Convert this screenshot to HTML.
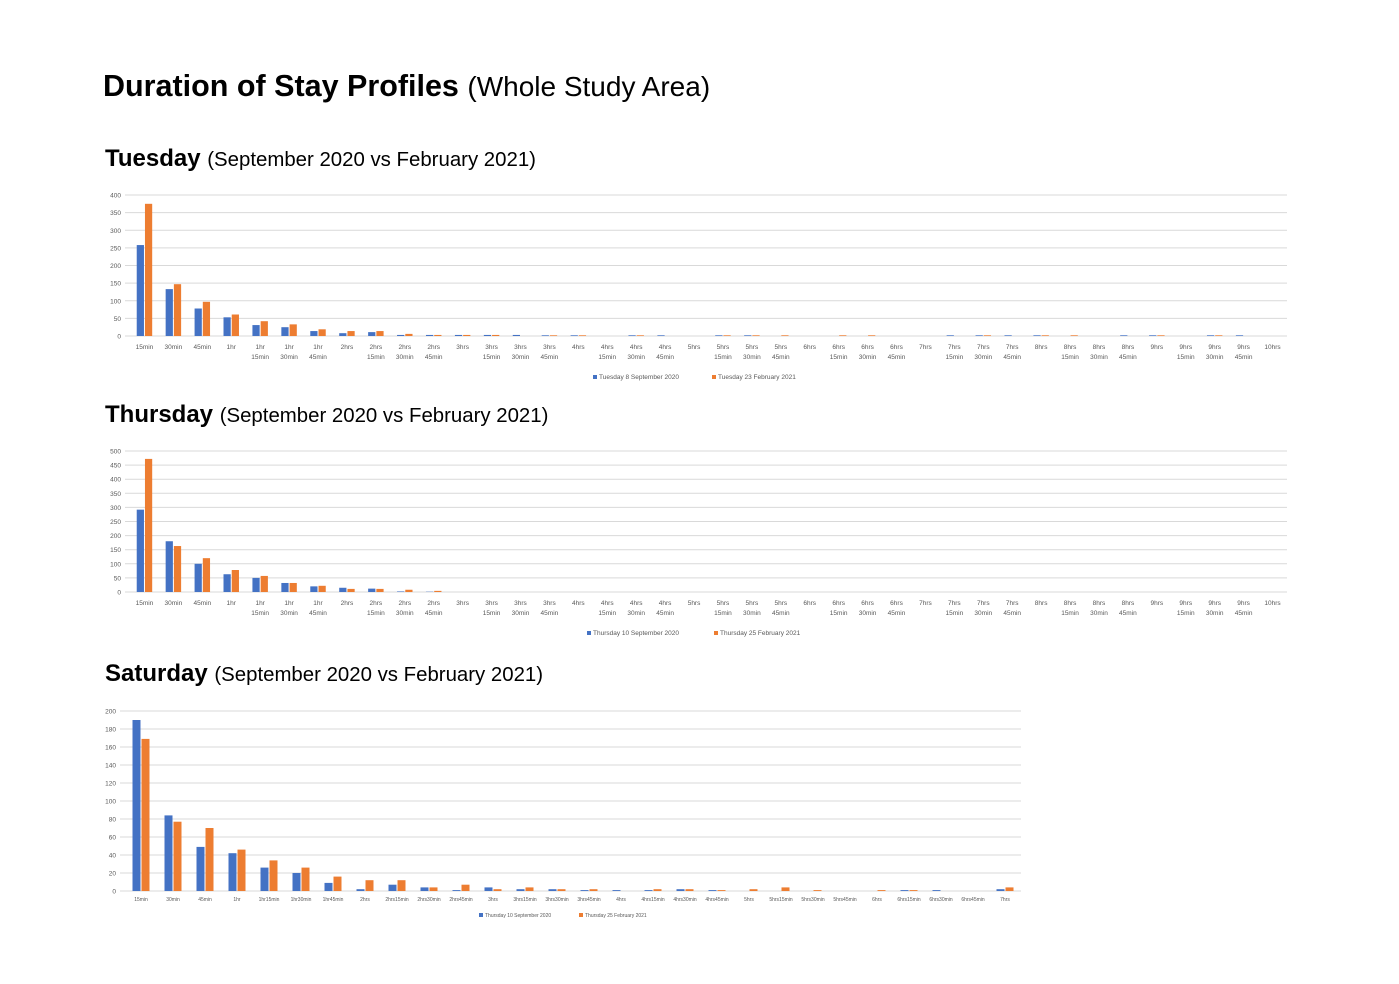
<!DOCTYPE html>
<html><head><meta charset="utf-8"><style>
body{margin:0;background:#fff;width:1399px;height:979px;overflow:hidden;font-family:"Liberation Sans",sans-serif}
</style></head><body>
<svg id="s" width="1399" height="979" xmlns="http://www.w3.org/2000/svg" font-family="Liberation Sans, sans-serif">
<text x="103" y="96" font-size="30.5" font-weight="bold" fill="#000">Duration of Stay Profiles <tspan font-weight="normal" font-size="28">(Whole Study Area)</tspan></text>
<text x="105" y="166" font-size="24" font-weight="bold">Tuesday <tspan font-weight="normal" font-size="20.4">(September 2020 vs February 2021)</tspan></text>
<text x="105" y="422" font-size="24" font-weight="bold">Thursday <tspan font-weight="normal" font-size="20.4">(September 2020 vs February 2021)</tspan></text>
<text x="105" y="681" font-size="24" font-weight="bold">Saturday <tspan font-weight="normal" font-size="20.4">(September 2020 vs February 2021)</tspan></text>
<g id="g"></g>
</svg>
<script>
var g=document.getElementById('g'),h='';
function cats(n){var a=[];for(var i=0;i<n;i++){var m=(i+1)*15,hr=Math.floor(m/60),mm=m%60;
if(hr==0)a.push([mm+'min','']);else{var u=hr==1?'hr':'hrs';a.push(mm==0?[hr+u,'']:[hr+u,mm+'min'])}}return a}
function chart(x0,x1,yt,yb,max,step,n,B,O,lab2,legY,legs,fs){
 var cw=(x1-x0)/n;
 for(var v=0;v<=max;v+=step){var y=yb-(yb-yt)*v/max;h+='<line x1="'+(x0-5)+'" x2="'+x1+'" y1="'+y+'" y2="'+y+'" stroke="#d9d9d9" stroke-width="1"/>';
 h+='<text x="'+(x0-9)+'" y="'+(y+2.5)+'" font-size="6.5" fill="#595959" text-anchor="end">'+v+'</text>';}
 var c=cats(n),bw=cw*0.25;
 for(var i=0;i<n;i++){var cx=x0+cw*(i+0.5);
  var b=B[i]||0,o=O[i]||0;
  var hb=(yb-yt)*b/max,ho=(yb-yt)*o/max;
  if(b>0)h+='<rect x="'+(cx-bw-0.5)+'" y="'+(yb-hb)+'" width="'+bw+'" height="'+hb+'" fill="#4472c4"/>';
  if(o>0)h+='<rect x="'+(cx+0.5)+'" y="'+(yb-ho)+'" width="'+bw+'" height="'+ho+'" fill="#ed7d31"/>';
  if(lab2){h+='<text x="'+cx+'" y="'+(yb+13)+'" font-size="6.5" fill="#595959" text-anchor="middle">'+c[i][0]+'</text>';
   if(c[i][1])h+='<text x="'+cx+'" y="'+(yb+23)+'" font-size="6.5" fill="#595959" text-anchor="middle">'+c[i][1]+'</text>';}
  else h+='<text x="'+cx+'" y="'+(yb+10)+'" font-size="5" fill="#595959" text-anchor="middle">'+c[i][0]+c[i][1]+'</text>';
 }
 h+='<rect x="'+legs[0]+'" y="'+(legY-4)+'" width="4" height="4" fill="#4472c4"/><text x="'+(legs[0]+6)+'" y="'+legY+'" font-size="'+fs+'" fill="#595959">'+legs[1]+'</text>';
 h+='<rect x="'+legs[2]+'" y="'+(legY-4)+'" width="4" height="4" fill="#ed7d31"/><text x="'+(legs[2]+6)+'" y="'+legY+'" font-size="'+fs+'" fill="#595959">'+legs[3]+'</text>';
}
var tb=[258,133,78,53,31,25,14,8,11,3,3,3,3,3,2,2,0,2,2,0,2,2,0,0,0,0,0,0,2,2,2,2,0,0,2,2,0,2,2,0];
var to=[375,147,97,61,42,33,19,14,14,6,3,3,3,0,2,2,0,2,0,0,2,2,2,0,2,2,0,0,0,2,0,2,2,0,0,2,0,2,0,0];
chart(130,1287,195,336,400,50,40,tb,to,true,379,[593,'Tuesday 8 September 2020',712,'Tuesday 23 February 2021'],6.5);
var hb=[292,180,100,63,50,32,20,15,12,2,1],ho=[472,163,120,78,57,32,22,11,11,8,4];
chart(130,1287,451,592,500,50,40,hb,ho,true,635,[587,'Thursday 10 September 2020',714,'Thursday 25 February 2021'],6.5);
var sb=[190,84,49,42,26,20,9,2,7,4,1,4,2,2,1,1,1,2,1,0,0,0,0,0,1,1,0,2];
var so=[169,77,70,46,34,26,16,12,12,4,7,2,4,2,2,0,2,2,1,2,4,1,0,1,1,0,0,4];
chart(125,1021,711,891,200,20,28,sb,so,false,917,[479,'Thursday 10 September 2020',579,'Thursday 25 February 2021'],5);
g.innerHTML=h;
</script>
</body></html>
